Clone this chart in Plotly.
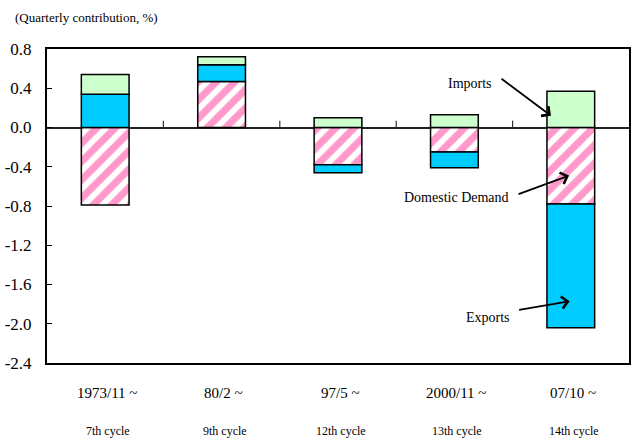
import plotly.graph_objects as go

# Business-cycle episodes (categories) and stacked contributions (%, quarterly)
periods = ["1973/11 ~", "80/2 ~", "97/5 ~", "2000/11 ~", "07/10 ~"]
cycles = ["7th cycle", "9th cycle", "12th cycle", "13th cycle", "14th cycle"]
domestic_demand = [-0.79, 0.47, -0.38, -0.25, -0.78]
exports = [0.34, 0.17, -0.08, -0.16, -1.26]
imports = [0.20, 0.08, 0.10, 0.13, 0.37]
y_ticks = [0.8, 0.4, 0.0, -0.4, -0.8, -1.2, -1.6, -2.0, -2.4]

FONT = "Liberation Serif"
xpos = list(range(len(periods)))

fig = go.Figure()
fig.add_trace(go.Bar(
    x=xpos, y=domestic_demand, name="Domestic Demand",
    marker=dict(color="white", line=dict(color="black", width=1.5),
                pattern=dict(shape="/", fgcolor="#FF99CC", bgcolor="white",
                             fgopacity=1, size=13, solidity=0.55)),
))
fig.add_trace(go.Bar(
    x=xpos, y=exports, name="Exports",
    marker=dict(color="#00CCFF", line=dict(color="black", width=1.5)),
))
fig.add_trace(go.Bar(
    x=xpos, y=imports, name="Imports",
    marker=dict(color="#CCFFCC", line=dict(color="black", width=1.5)),
))

# Small tick marks on the zero line between episodes
shapes = [
    dict(type="line", xref="x", yref="y", x0=i + 0.5, x1=i + 0.5, y0=0, y1=0.07,
         line=dict(color="#333", width=1.2))
    for i in range(len(periods) - 1)
]

annotations = []
# Two-line category labels below the plot
for i, (p, c) in enumerate(zip(periods, cycles)):
    annotations.append(dict(x=i, y=-0.095, xref="x", yref="paper", text=p,
                            showarrow=False, xshift=2, yanchor="middle",
                            font=dict(family=FONT, size=15, color="black")))
    annotations.append(dict(x=i, y=-0.217, xref="x", yref="paper", text=c,
                            showarrow=False, xshift=3, yanchor="middle",
                            font=dict(family=FONT, size=12, color="black")))

# Series labels with arrows pointing into the last bar
labels = [
    ("Imports", 3.13, 0.45, 3.83, 0.12, -51, -38),
    ("Domestic Demand", 3.02, -0.71, 3.985, -0.49, -52, 19),
    ("Exports", 3.29, -1.935, 3.99, -1.77, -52, 9),
]
for text, tx, ty, hx, hy, ax, ay in labels:
    annotations.append(dict(x=tx, y=ty, xref="x", yref="y", text=text,
                            showarrow=False, xanchor="center", yanchor="middle",
                            font=dict(family=FONT, size=14, color="black")))
    annotations.append(dict(x=hx, y=hy, xref="x", yref="y", text="",
                            showarrow=True, ax=ax, ay=ay, arrowhead=4,
                            arrowsize=1.3, arrowwidth=1.8, arrowcolor="black"))

# Unit caption
annotations.append(dict(x=-0.058, y=1.099, xref="paper", yref="paper",
                        xanchor="left", yanchor="middle", showarrow=False,
                        text="(Quarterly contribution, %)",
                        font=dict(family=FONT, size=13, color="black")))

fig.update_layout(
    width=636, height=439,
    margin=dict(l=46, r=5, t=49, b=76),
    barmode="relative", bargap=0.59,
    paper_bgcolor="white", plot_bgcolor="white",
    showlegend=False,
    shapes=shapes, annotations=annotations,
    font=dict(family=FONT, color="black"),
)
fig.update_xaxes(
    range=[-0.5, len(periods) - 0.5], showticklabels=False, ticks="",
    showgrid=False, zeroline=False,
    showline=True, linecolor="black", linewidth=2, mirror=True,
)
fig.update_yaxes(
    range=[-2.4, 0.8], tickvals=y_ticks,
    ticktext=[f"{v:.1f}".replace("-0.0", "0.0") for v in y_ticks],
    ticks="inside", ticklen=5, tickcolor="black", tickwidth=1,
    ticklabelstandoff=10,
    tickfont=dict(family=FONT, size=17, color="black"),
    showgrid=False, zeroline=True, zerolinecolor="#222", zerolinewidth=1.5,
    showline=True, linecolor="black", linewidth=2, mirror=True,
)

fig.write_html("out.html")
